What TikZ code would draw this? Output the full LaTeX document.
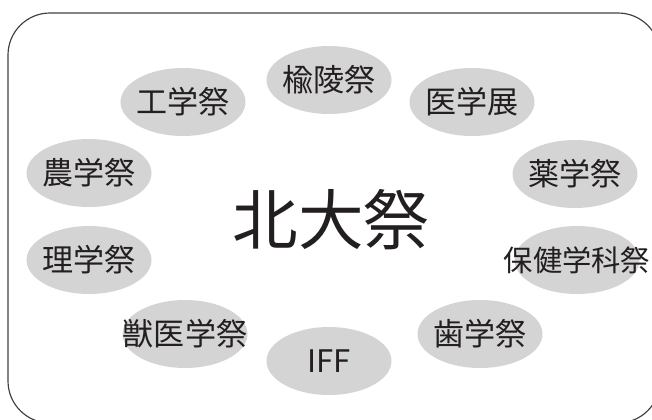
\documentclass[tikz,border=0pt]{standalone}
\usepackage{fontspec}
\setmainfont{Noto Sans CJK JP}
\usetikzlibrary{shapes, backgrounds}
\definecolor{festgray}{HTML}{D4D4D4}
\definecolor{inkblack}{HTML}{231F20}
\tikzset{%
  fest/.style  = {ellipse, fill=festgray, text=inkblack, minimum width=3.75cm,
    minimum height=2.04cm, inner xsep=-1cm, inner ysep=0pt,
    font=\fontsize{26.5}{30}\selectfont},
  title/.style = {text=inkblack, inner sep=0pt, font=\fontsize{56}{60}\selectfont},
  frame/.style = {draw=black!75, line width=1pt, rounded corners=1.26cm}
}

\begin{document}
\begin{tikzpicture}[x=0.03cm, y=-0.03cm]

  \useasboundingbox (0,0) rectangle (652,419);
  \clip (0,0) rectangle (652,419);
  \draw[frame] (8,13) rectangle (660,423);

  \node [title] (hokudai) at (331,220) {北大祭};

  \node [fest] (yuryo)  at (329,80)  {楡陵祭};
  \node [fest] (igaku)  at (472,102) {医学展};
  \node [fest] (yaku)   at (575,174) {薬学祭};
  \node [fest, font=\fontsize{25}{30}\selectfont] (hoken) at (577,260) {保健学科祭};
  \node [fest] (shi)    at (480,334) {歯学祭};
  \node [fest] (iff)    at (329,361) {IFF};
  \node [fest] (juui)   at (185,334) {獣医学祭};
  \node [fest] (ri)     at (89,260)  {理学祭};
  \node [fest] (nou)    at (89,173)  {農学祭};
  \node [fest] (kou)    at (183,102) {工学祭};

\end{tikzpicture}
\end{document}
